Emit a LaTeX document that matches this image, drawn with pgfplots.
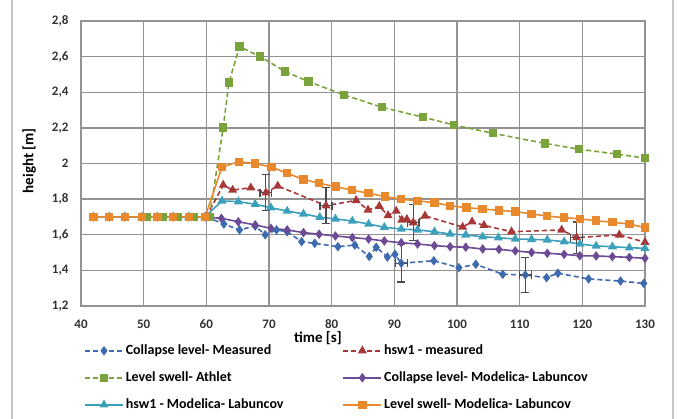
\documentclass[border=0pt]{standalone}
\usepackage{pgfplots}
\pgfplotsset{compat=1.18}
\usetikzlibrary{calc}
\usepackage{fontspec}
\setmainfont{Carlito}
\definecolor{cblue}{HTML}{3D6BAE}
\definecolor{cred}{HTML}{A83838}
\definecolor{cgreen}{HTML}{7AA33C}
\definecolor{cpurple}{HTML}{6C4A96}
\definecolor{ccyan}{HTML}{3CA0BC}
\definecolor{corange}{HTML}{E8892E}
\definecolor{cgrid}{HTML}{939393}
\begin{document}
\begin{tikzpicture}
\begin{axis}[
  name=main,
  scale only axis,
  width=564pt, height=285pt,
  xmin=40, xmax=130, ymin=1.2, ymax=2.8,
  xtick={40,50,...,130},
  ytick={1.2,1.4,1.6,1.8,2.0,2.2,2.4,2.6,2.8},
  yticklabels={{1,2},{1,4},{1,6},{1,8},2,{2,2},{2,4},{2,6},{2,8}},
  /pgf/number format/assume math mode=true,
  grid=major,
  grid style={cgrid, line width=1.3pt},
  axis line style={cgrid, line width=1.3pt},
  tick style={draw=none},
  ticklabel style={font=\fontsize{13}{15}\selectfont\bfseries, text=black!80},
  xticklabel style={yshift=-10pt},
  yticklabel style={xshift=-9pt},
  xlabel={time [s]},
  ylabel={height [m]},
  label style={font=\fontsize{15}{17}\selectfont\bfseries},
  xlabel style={at={(axis description cs:0.42,-0.114)}, anchor=center},
  ylabel style={at={(axis description cs:-0.092,0.51)}, anchor=center},
  legend columns=2,
  legend cell align=left,
  legend style={at={(axis description cs:0.0,-0.102)}, anchor=north west,
    draw=none, fill=none, font=\fontsize{14}{16}\selectfont\bfseries,
    nodes={text height=11pt, text depth=3.5pt, inner ysep=6.25pt},
    /tikz/every even column/.append style={column sep=57pt}},
  legend image code/.code={\draw[mark repeat=2,mark phase=2] plot coordinates {(0pt,0pt) (19pt,0pt) (38pt,0pt)};},
]
% Collapse level - Measured
\addplot[cblue, line width=1.6pt, dash pattern=on 5pt off 3pt, mark=diamond*, mark size=3.5pt, mark options={solid}] coordinates {
(60,1.7)(62.8,1.66)(65.3,1.627)(67.8,1.649)(69.4,1.6)(71.2,1.627)(72.9,1.617)(75.2,1.561)(77.3,1.552)(81,1.533)(83.7,1.542)(86,1.478)(87.1,1.53)(88.9,1.475)(90.1,1.49)(91.1,1.44)(96.3,1.454)(100.3,1.415)(103,1.434)(107.3,1.378)(110.9,1.374)(114.3,1.359)(116.1,1.384)(121,1.352)(126.1,1.34)(129.8,1.327)};
\addlegendentry{Collapse level- Measured}
% hsw1 - measured
\addplot[cred, line width=1.6pt, dash pattern=on 5pt off 3pt, mark=triangle*, mark size=3.7pt, mark options={solid}] coordinates {
(60,1.7)(62.7,1.879)(64.2,1.851)(67.1,1.864)(69.5,1.836)(71.4,1.874)(79.1,1.763)(83.9,1.793)(85.8,1.739)(87.6,1.76)(89,1.708)(90.3,1.733)(91.2,1.683)(92,1.687)(93,1.668)(94.9,1.706)(100.9,1.643)(102.4,1.673)(104.3,1.653)(108.7,1.617)(116.7,1.627)(119.1,1.584)(125.9,1.599)(130,1.558)};
\addlegendentry{hsw1 - measured}
% Level swell - Athlet
\addplot[cgreen, line width=1.6pt, dash pattern=on 5pt off 3pt, mark=square*, mark size=3.4pt, mark options={solid}] coordinates {
(50.5,1.7)(53,1.7)(55.5,1.7)(58,1.7)(60.5,1.7)(62.7,2.203)(63.6,2.454)(65.3,2.656)(68.6,2.60)(72.6,2.516)(76.3,2.46)(82,2.385)(88,2.316)(94.6,2.26)(99.5,2.216)(105.7,2.17)(114,2.113)(119.5,2.08)(125.5,2.053)(130,2.03)};
\addlegendentry{Level swell- Athlet}
% Collapse level - Modelica - Labuncov
\addplot[cpurple, line width=1.6pt, mark=diamond*, mark size=3.5pt] coordinates {
(42,1.7)(44.5,1.7)(47,1.7)(49.7,1.7)(52.2,1.7)(54.7,1.7)(57.2,1.7)(59.8,1.7)(62.4,1.692)(65.1,1.673)(67.8,1.655)(70.3,1.636)(72.9,1.627)(75.5,1.612)(78,1.603)(80.6,1.593)(83.3,1.584)(85.9,1.576)(88.4,1.565)(91.1,1.555)(93.7,1.548)(96.4,1.539)(98.9,1.533)(101.4,1.53)(104.1,1.52)(106.7,1.518)(109.3,1.509)(111.9,1.501)(114.4,1.496)(117.1,1.49)(119.6,1.482)(122.2,1.481)(124.8,1.477)(127.5,1.473)(130,1.468)};
\addlegendentry{Collapse level- Modelica- Labuncov}
% hsw1 - Modelica - Labuncov
\addplot[ccyan, line width=1.6pt, mark=triangle*, mark size=3.7pt] coordinates {
(42,1.7)(44.5,1.7)(47,1.7)(49.7,1.7)(52.2,1.7)(54.7,1.7)(57.2,1.7)(59.8,1.7)(62.5,1.79)(65.1,1.786)(67.8,1.771)(70.3,1.752)(72.9,1.733)(75.5,1.717)(78.1,1.698)(80.6,1.689)(83.3,1.677)(85.9,1.66)(88.4,1.642)(91.1,1.632)(93.7,1.627)(96.4,1.617)(98.9,1.604)(101.4,1.599)(104.1,1.589)(106.6,1.583)(109.3,1.576)(111.9,1.574)(114.4,1.571)(117.1,1.561)(119.6,1.548)(122.2,1.537)(124.8,1.533)(127.5,1.527)(130,1.524)};
\addlegendentry{hsw1 - Modelica- Labuncov}
% Level swell - Modelica - Labuncov
\addplot[corange, line width=1.6pt, mark=square*, mark size=3.4pt] coordinates {
(42,1.7)(44.5,1.7)(47,1.7)(49.7,1.7)(52.2,1.7)(54.7,1.7)(57.2,1.7)(59.8,1.7)(62.5,1.98)(65.2,2.01)(67.8,2.0)(70.4,1.98)(72.9,1.945)(75.5,1.911)(78,1.889)(80.6,1.87)(83.2,1.851)(85.9,1.833)(88.5,1.814)(91.1,1.8)(93.7,1.79)(96.4,1.78)(98.9,1.763)(101.5,1.752)(104.1,1.745)(106.7,1.737)(109.3,1.73)(111.9,1.717)(114.4,1.705)(117.1,1.696)(119.6,1.689)(122.2,1.679)(124.8,1.67)(127.5,1.66)(130,1.64)};
\addlegendentry{Level swell- Modelica- Labuncov}
% error bars
\addplot[forget plot, black!70, line width=1.2pt, only marks, mark=*, mark size=0.01pt,
  error bars/.cd, x dir=both, x explicit, y dir=both, y explicit,
  error mark=|,
  error bar style={black!70, line width=1.2pt, solid},
  error mark options={black!70, mark size=4pt, line width=1.2pt, solid}]
  coordinates {
  (91.1,1.44) +- (0.95,0.105)
  (110.9,1.374) +- (0.95,0.1)
  (69.5,1.836) +- (0.95,0.1)
  (79.1,1.763) +- (0.95,0.1)
  (93,1.668) +- (0.95,0.1)
  (119.1,1.584) +- (0.95,0.088)
};
\end{axis}
\draw[gray!45, line width=1.2pt] ($(main.south west)+(-69pt,-120pt)$) |- ($(main.south west)+(592pt,392pt)$) -- ($(main.south west)+(592pt,-120pt)$);
\pgfresetboundingbox
\path ($(main.south west)+(-81pt,-113pt)$) rectangle ($(main.south west)+(597pt,306pt)$);
\end{tikzpicture}
\end{document}
